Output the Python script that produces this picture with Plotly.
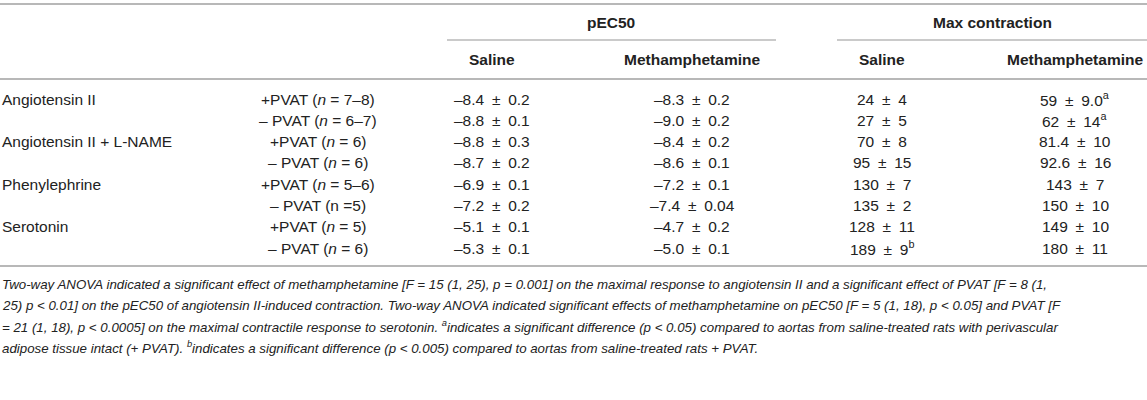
import plotly.graph_objects as go

# ---- data ----
compounds = ["Angiotensin II", "", "Angiotensin II + L-NAME", "", "Phenylephrine", "", "Serotonin", ""]
pvat_labels = ["+PVAT (<i>n</i> = 7–8)", "– PVAT (<i>n</i> = 6–7)", "+PVAT (<i>n</i> = 6)", "– PVAT (<i>n</i> = 6)",
               "+PVAT (<i>n</i> = 5–6)", "– PVAT (n =5)", "+PVAT (<i>n</i> = 5)", "– PVAT (<i>n</i> = 6)"]
pec50_saline_mean = ["–8.4", "–8.8", "–8.8", "–8.7", "–6.9", "–7.2", "–5.1", "–5.3"]
pec50_saline_sem = ["0.2", "0.1", "0.3", "0.2", "0.1", "0.2", "0.1", "0.1"]
pec50_meth_mean = ["–8.3", "–9.0", "–8.4", "–8.6", "–7.2", "–7.4", "–4.7", "–5.0"]
pec50_meth_sem = ["0.2", "0.2", "0.2", "0.1", "0.1", "0.04", "0.2", "0.1"]
max_saline_mean = ["24", "27", "70", "95", "130", "135", "128", "189"]
max_saline_sem = ["4", "5", "8", "15", "7", "2", "11", "9"]
max_saline_sup = ["", "", "", "", "", "", "", "b"]
max_meth_mean = ["59", "62", "81.4", "92.6", "143", "150", "149", "180"]
max_meth_sem = ["9.0", "14", "10", "16", "7", "10", "10", "11"]
max_meth_sup = ["a", "a", "", "", "", "", "", ""]

group_headers = ["pEC50", "Max contraction"]
sub_headers = ["Saline", "Methamphetamine", "Saline", "Methamphetamine"]

footnote_lines = [
    "Two-way ANOVA indicated a significant effect of methamphetamine [F = 15 (1, 25), p = 0.001] on the maximal response to angiotensin II and a significant effect of PVAT [F = 8 (1,",
    "25) p &lt; 0.01] on the pEC50 of angiotensin II-induced contraction. Two-way ANOVA indicated significant effects of methamphetamine on pEC50 [F = 5 (1, 18), p &lt; 0.05] and PVAT [F",
    "= 21 (1, 18), p &lt; 0.0005] on the maximal contractile response to serotonin. <sup>a</sup>indicates a significant difference (p &lt; 0.05) compared to aortas from saline-treated rats with perivascular",
    "adipose tissue intact (+ PVAT). <sup>b</sup>indicates a significant difference (p &lt; 0.005) compared to aortas from saline-treated rats + PVAT.",
]

# ---- layout constants ----
W, H = 1147, 400
FONT = "Liberation Sans"
TXT = "#222222"
LINE = "#b8b8b8"
BODY = 15.5
FOOT = 13.3
col_x = [1, 318, 492, 692, 882, 1075]
group_x = [611, 992]
group_lines = [(447, 776), (837, 1147)]
y_group, y_under, y_sub, y_rule = 22, 40, 59, 79
row_y0, row_dy = 99, 21.3
y_bottom = 266
foot_y0, foot_dy = 284, 21
PM = "\u2002±\u2002"

fig = go.Figure()
fig.add_trace(go.Scatter(x=[0, W], y=[0, H], mode="markers", marker=dict(opacity=0), hoverinfo="skip", showlegend=False))

ann = []
def add(text, x, y, anchor="center", size=BODY, bold=False, italic=False):
    t = text
    if bold:
        t = "<b>" + t + "</b>"
    if italic:
        t = "<i>" + t + "</i>"
    ann.append(dict(text=t, x=x, y=y, xref="x", yref="y", xanchor=anchor, yanchor="middle",
                    showarrow=False, borderpad=0, font=dict(family=FONT, size=size, color=TXT)))

for g, gx in zip(group_headers, group_x):
    add(g, gx, y_group, bold=True)
for s, sx in zip(sub_headers, col_x[2:]):
    add(s, sx, y_sub, bold=True)

for i in range(len(compounds)):
    y = row_y0 + i * row_dy
    if compounds[i]:
        add(compounds[i], col_x[0], y, anchor="left")
    add(pvat_labels[i], col_x[1], y)
    add(f"{pec50_saline_mean[i]}{PM}{pec50_saline_sem[i]}", col_x[2], y)
    add(f"{pec50_meth_mean[i]}{PM}{pec50_meth_sem[i]}", col_x[3], y)
    sup = f"<sup>{max_saline_sup[i]}</sup>" if max_saline_sup[i] else ""
    add(f"{max_saline_mean[i]}{PM}{max_saline_sem[i]}{sup}", col_x[4], y)
    sup = f"<sup>{max_meth_sup[i]}</sup>" if max_meth_sup[i] else ""
    add(f"{max_meth_mean[i]}{PM}{max_meth_sem[i]}{sup}", col_x[5], y)

for j, line in enumerate(footnote_lines):
    add(line, 1, foot_y0 + j * foot_dy, anchor="left", italic=True, size=FOOT)

shapes = []
def hline(x0, x1, y, w=2):
    shapes.append(dict(type="line", xref="x", yref="y", x0=x0, x1=x1, y0=y, y1=y, line=dict(color=LINE, width=w)))

hline(0, W, 4)
for (a, b) in group_lines:
    hline(a, b, y_under, 1.5)
hline(0, W, y_rule)
hline(0, W, y_bottom)

fig.update_layout(
    width=W, height=H, margin=dict(l=0, r=0, t=0, b=0),
    paper_bgcolor="white", plot_bgcolor="white",
    xaxis=dict(range=[0, W], visible=False, fixedrange=True),
    yaxis=dict(range=[H, 0], visible=False, fixedrange=True),
    annotations=ann, shapes=shapes, showlegend=False,
)
fig.write_html("out.html", config={"displayModeBar": False},
               post_script="document.body.style.margin='0';document.body.style.overflow='hidden';")
